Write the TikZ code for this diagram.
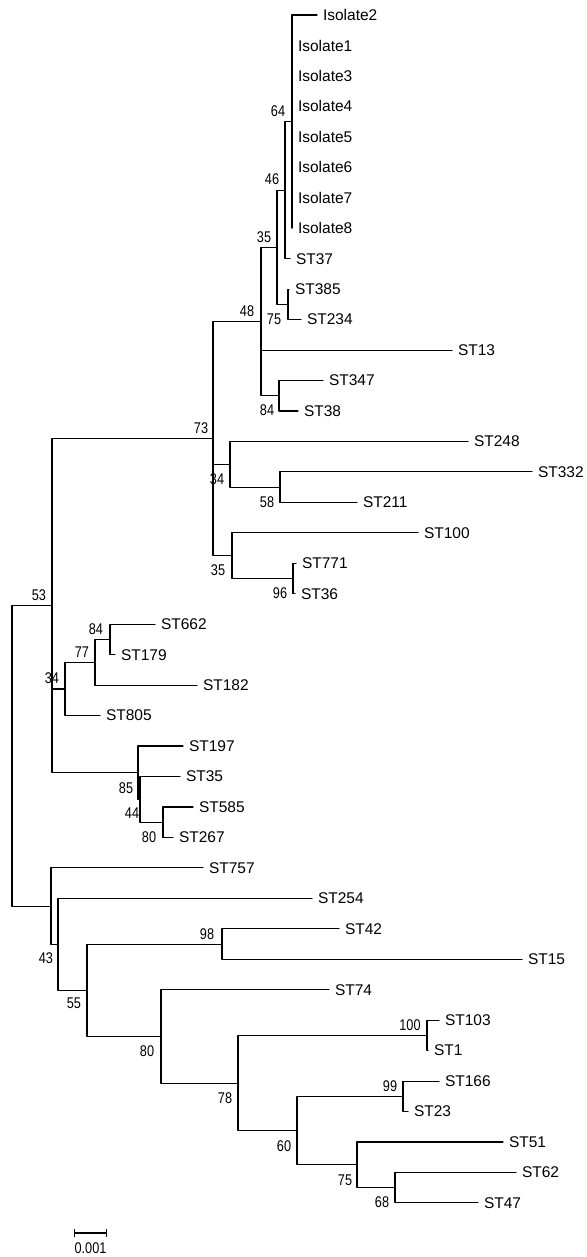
\documentclass[tikz,border=0pt]{standalone}
\usepackage{fontspec}
\setmainfont{Liberation Sans}
\newfontfamily\bootfont[FakeStretch=0.82]{Liberation Sans}
\usetikzlibrary{arrows.meta}

\begin{document}
\begin{tikzpicture}[x=1pt, y=-1pt, line width=1.1pt, line join=round, line cap=round,
		leaf/.style={anchor=west, inner xsep=5.5pt, inner ysep=1pt, font=\fontsize{15.5}{18}\selectfont},
		boot/.style={inner sep=0pt, font=\bootfont\fontsize{15.5}{18}\selectfont}]
				\useasboundingbox (0,0) rectangle (586,1257);
				% inner nodes of the tree
				\coordinate (c64) at (292,121.6);
				\coordinate (c46) at (285,190.2);
				\coordinate (c75a) at (288,304.4);
				\coordinate (c35a) at (277,247.3);
				\coordinate (c84a) at (279,395.8);
				\coordinate (c48) at (261,321.5);
				\coordinate (c58) at (280,487.2);
				\coordinate (c34a) at (230,464.3);
				\coordinate (c96) at (293,578.5);
				\coordinate (c35b) at (232,555.7);
				\coordinate (c73) at (213,438.6);
				\coordinate (c84b) at (110,639.5);
				\coordinate (c77) at (95,662.3);
				\coordinate (c34b) at (65,689.0);
				\coordinate (c80a) at (163,822.2);
				\coordinate (c44) at (140,799.4);
				\coordinate (c85) at (138,772.7);
				\coordinate (c53) at (52,605.7);
				\coordinate (c100) at (427,1035.4);
				\coordinate (c99) at (403,1096.4);
				\coordinate (c68) at (395,1187.7);
				\coordinate (c75b) at (357,1164.9);
				\coordinate (c60) at (297,1130.7);
				\coordinate (c78) at (238,1083.1);
				\coordinate (c80b) at (161,1036.4);
				\coordinate (c98) at (222,944.1);
				\coordinate (c55) at (87,990.3);
				\coordinate (c43x) at (58,944.3);
				\coordinate (c43) at (51,906.1);
				\coordinate (root) at (12,755.9);
				% leaves
				\node[leaf] (iso2) at (317,15.0) {Isolate2};
				\node[leaf] (iso1) at (292,45.5) {Isolate1};
				\node[leaf] (iso3) at (292,75.9) {Isolate3};
				\node[leaf] (iso4) at (292,106.4) {Isolate4};
				\node[leaf] (iso5) at (292,136.8) {Isolate5};
				\node[leaf] (iso6) at (292,167.3) {Isolate6};
				\node[leaf] (iso7) at (292,197.8) {Isolate7};
				\node[leaf] (iso8) at (292,228.2) {Isolate8};
				\node[leaf] (st37) at (290,258.7) {ST37};
				\node[leaf] (st385) at (289,289.1) {ST385};
				\node[leaf] (st234) at (301,319.6) {ST234};
				\node[leaf] (st13) at (452,350.1) {ST13};
				\node[leaf] (st347) at (323,380.5) {ST347};
				\node[leaf] (st38) at (298,411.0) {ST38};
				\node[leaf] (st248) at (468,441.4) {ST248};
				\node[leaf] (st332) at (532,471.9) {ST332};
				\node[leaf] (st211) at (357,502.4) {ST211};
				\node[leaf] (st100) at (418,532.8) {ST100};
				\node[leaf] (st771) at (296,563.3) {ST771};
				\node[leaf] (st36) at (295,593.7) {ST36};
				\node[leaf] (st662) at (155,624.2) {ST662};
				\node[leaf] (st179) at (115,654.7) {ST179};
				\node[leaf] (st182) at (197,685.1) {ST182};
				\node[leaf] (st805) at (100,715.6) {ST805};
				\node[leaf] (st197) at (183,746.0) {ST197};
				\node[leaf] (st35) at (180,776.5) {ST35};
				\node[leaf] (st585) at (193,807.0) {ST585};
				\node[leaf] (st267) at (173,837.4) {ST267};
				\node[leaf] (st757) at (203,867.9) {ST757};
				\node[leaf] (st254) at (312,898.3) {ST254};
				\node[leaf] (st42) at (339,928.8) {ST42};
				\node[leaf] (st15) at (522,959.3) {ST15};
				\node[leaf] (st74) at (329,989.7) {ST74};
				\node[leaf] (st103) at (439,1020.2) {ST103};
				\node[leaf] (st1) at (428,1050.6) {ST1};
				\node[leaf] (st166) at (439,1081.1) {ST166};
				\node[leaf] (st23) at (408,1111.6) {ST23};
				\node[leaf] (st51) at (503,1142.0) {ST51};
				\node[leaf] (st62) at (516,1172.5) {ST62};
				\node[leaf] (st47) at (478,1202.9) {ST47};
				% branches
				\draw (c64) |- (iso2) (c64) |- (iso1) (c64) |- (iso3) (c64) |- (iso4)
					(c64) |- (iso5) (c64) |- (iso6) (c64) |- (iso7) (c64) |- (iso8);
				\draw (c46) |- (c64) (c46) |- (st37);
				\draw (c75a) |- (st385) (c75a) |- (st234);
				\draw (c35a) |- (c46) (c35a) |- (c75a);
				\draw (c84a) |- (st347) (c84a) |- (st38);
				\draw (c48) |- (c35a) (c48) |- (st13) (c48) |- (c84a);
				\draw (c58) |- (st332) (c58) |- (st211);
				\draw (c34a) |- (st248) (c34a) |- (c58);
				\draw (c96) |- (st771) (c96) |- (st36);
				\draw (c35b) |- (st100) (c35b) |- (c96);
				\draw (c73) |- (c48) (c73) |- (c34a) (c73) |- (c35b);
				\draw (c84b) |- (st662) (c84b) |- (st179);
				\draw (c77) |- (c84b) (c77) |- (st182);
				\draw (c34b) |- (c77) (c34b) |- (st805);
				\draw (c80a) |- (st585) (c80a) |- (st267);
				\draw (c44) |- (st35) (c44) |- (c80a);
				\draw (c85) |- (st197) (c85) |- (c44);
				\draw (c53) |- (c73) (c53) |- (c34b) (c53) |- (c85);
				\draw (c100) |- (st103) (c100) |- (st1);
				\draw (c99) |- (st166) (c99) |- (st23);
				\draw (c68) |- (st62) (c68) |- (st47);
				\draw (c75b) |- (st51) (c75b) |- (c68);
				\draw (c60) |- (c99) (c60) |- (c75b);
				\draw (c78) |- (c100) (c78) |- (c60);
				\draw (c80b) |- (st74) (c80b) |- (c78);
				\draw (c98) |- (st42) (c98) |- (st15);
				\draw (c55) |- (c98) (c55) |- (c80b);
				\draw (c43x) |- (st254) (c43x) |- (c55);
				\draw (c43) |- (st757) (c43) |- (c43x);
				\draw (root) |- (c53) (root) |- (c43);
				% bootstrap values
				\node[boot] (b64) at (278,111) {64};
				\node[boot] (b46) at (272,179) {46};
				\node[boot] (b35a) at (264,237) {35};
				\node[boot] (b48) at (247,311) {48};
				\node[boot] (b75a) at (274,319) {75};
				\node[boot] (b84a) at (267,410) {84};
				\node[boot] (b73) at (201,428) {73};
				\node[boot] (b34a) at (217,479) {34};
				\node[boot] (b58) at (267,502) {58};
				\node[boot] (b35b) at (218,570) {35};
				\node[boot] (b96) at (280,593) {96};
				\node[boot] (b53) at (39,595) {53};
				\node[boot] (b84b) at (96,629) {84};
				\node[boot] (b77) at (82,652) {77};
				\node[boot] (b34b) at (52,678) {34};
				\node[boot] (b85) at (126,788) {85};
				\node[boot] (b44) at (132,813) {44};
				\node[boot] (b80a) at (149,837) {80};
				\node[boot] (b98) at (207,934) {98};
				\node[boot] (b43) at (46,958) {43};
				\node[boot] (b55) at (74,1003) {55};
				\node[boot] (b100) at (410,1025) {100};
				\node[boot] (b80b) at (147,1051) {80};
				\node[boot] (b99) at (390,1086) {99};
				\node[boot] (b78) at (225,1098) {78};
				\node[boot] (b60) at (284,1146) {60};
				\node[boot] (b75b) at (345,1180) {75};
				\node[boot] (b68) at (382,1202) {68};
				% scale bar
				\coordinate (sbl) at (74,1233);
				\coordinate (sbr) at (107,1233);
				\draw[{Bar[width=8pt]}-{Bar[width=8pt]}] (sbl) -- (sbr);
				\node[boot] (sbtext) at (90.5,1248) {0.001};
\end{tikzpicture}
\end{document}
